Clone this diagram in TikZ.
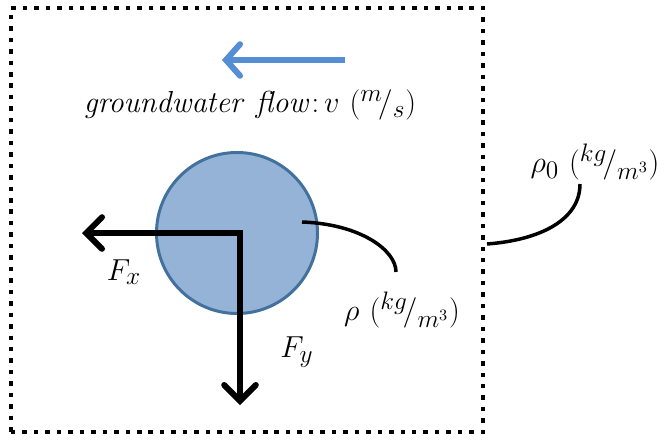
\documentclass[tikz,border=0pt]{standalone}
\usetikzlibrary{arrows.meta}
\begin{document}
\begin{tikzpicture}[x=0.02cm,y=-0.02cm,
  force/.style={line width=6*0.567pt,-{Straight Barb[length=9pt,width=18pt,line width=6*0.567pt,line cap=round]}},
  flow/.style={line width=6*0.567pt,draw={rgb,255:red,85;green,142;blue,213},-{Straight Barb[length=8pt,width=18pt,line cap=round]}},
  lead/.style={line width=3.5*0.567pt},
  lbl/.style={font=\fontsize{19}{23}\selectfont,inner sep=0pt}]
\useasboundingbox (0,0) rectangle (668,439);
% dotted box
\node[draw,line width=4.5*0.567pt,dash pattern=on 4.5*0.567pt off 7*0.567pt,minimum width=472*0.02cm,minimum height=424*0.02cm,inner sep=0pt] (box) at (247,220) {};
% flow arrow
\coordinate (fs) at (345,60);
\coordinate (fe) at (222,60);
\draw[flow] (fs) -- (fe);
\node[lbl] (flowlbl) at (250,105) {$\mathit{groundwater\ flow}\colon v\ ({}^{m}\!/_{s})$};
% particle
\node[circle,draw={rgb,255:red,65;green,113;blue,156},fill={rgb,255:red,149;green,179;blue,215},line width=3*0.567pt,minimum size=161*0.02cm,inner sep=0pt] (ball) at (237,233) {};
\coordinate (c) at (240,233);
\coordinate (fx) at (82,233);
\coordinate (fy) at (240,405);
\draw[force] ([xshift=1.5pt]c) -- (fx);
\draw[force] ([yshift=-1.5pt]c) -- (fy);
\node[lbl] (fxl) at (124,272) {$F_x$};
\node[lbl] (fyl) at (297,352) {$F_y$};
% density labels
\node[lbl] (rho) at (402,310) {$\rho\ ({}^{kg}\!/_{m^3})$};
\node[lbl] (rho0) at (595,162) {$\rho_0\ ({}^{kg}\!/_{m^3})$};
\coordinate (b1) at (302,222);
\coordinate (b2) at (396,272);
\draw[lead] (b1) .. controls (360,224) and (396,250) .. (b2);
\coordinate (w1) at (487,244);
\coordinate (w2) at (580,184);
\draw[lead] (w1) .. controls (540,240) and (580,220) .. (w2);
\end{tikzpicture}
\end{document}
